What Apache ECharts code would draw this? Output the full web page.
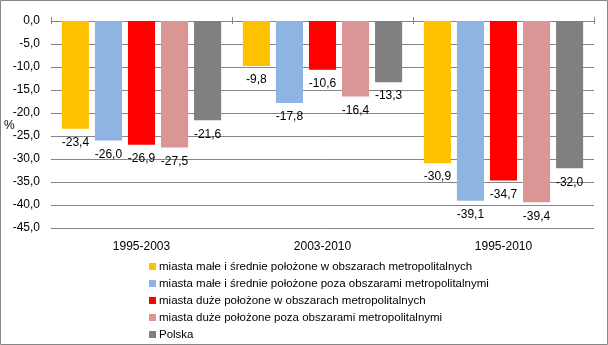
<!DOCTYPE html>
<html><head><meta charset="utf-8">
<script src="https://cdn.jsdelivr.net/npm/echarts@6/dist/echarts.min.js"></script>
<style>html,body{margin:0;padding:0;background:#fff}#c{width:608px;height:345px}</style>
</head><body><div id="c"></div>
<script>
const categories = ['1995-2003', '2003-2010', '1995-2010'];
const seriesNames = [
  'miasta małe i średnie położone w obszarach metropolitalnych',
  'miasta małe i średnie położone poza obszarami metropolitalnymi',
  'miasta duże położone w obszarach metropolitalnych',
  'miasta duże położone poza obszarami metropolitalnymi',
  'Polska'
];
const smallMetro = [-23.4, -9.8, -30.9];
const smallNonMetro = [-26.0, -17.8, -39.1];
const bigMetro = [-26.9, -10.6, -34.7];
const bigNonMetro = [-27.5, -16.4, -39.4];
const polska = [-21.6, -13.3, -32.0];
const colors = ['#FFC000', '#8DB4E2', '#FF0000', '#DA9694', '#808080'];
const values = [smallMetro, smallNonMetro, bigMetro, bigNonMetro, polska];

const fmt = v => Number(v).toFixed(1).replace('.', ',');
const font = 'Liberation Sans, Arial, sans-serif';

const chart = echarts.init(document.getElementById('c'), null, {renderer: 'canvas'});
chart.setOption({
  animation: false,
  grid: {left: 51, right: 14, top: 21, bottom: 117},
  xAxis: [
    {type: 'category', data: categories, position: 'bottom',
     axisLine: {show: false}, axisTick: {show: false},
     axisLabel: {margin: 13, fontSize: 12, color: '#000', fontFamily: font}},
    {type: 'category', data: categories, position: 'top',
     axisLine: {show: true, lineStyle: {color: '#868686'}},
     axisTick: {show: true, length: 4, lineStyle: {color: '#868686'}},
     axisLabel: {show: false}},
    {type: 'category', data: categories, position: 'top',
     axisLine: {show: false},
     axisTick: {show: true, inside: true, length: 3, lineStyle: {color: '#868686'}},
     axisLabel: {show: false}}
  ],
  yAxis: {type: 'value', min: -45, max: 0, interval: 5,
    axisLine: {show: false}, axisTick: {show: false},
    splitLine: {lineStyle: {color: '#868686', width: 1}},
    axisLabel: {formatter: fmt, margin: 11, fontSize: 12, color: '#000', fontFamily: font}},
  legend: {orient: 'vertical', left: 149, top: 260, width: 400, height: 86, padding: 0,
    itemWidth: 7, itemHeight: 7, itemGap: 4, icon: 'rect',
    textStyle: {fontSize: 11.5, color: '#000', fontFamily: font, lineHeight: 13, padding: [0, 0, 0, -2]},
    data: seriesNames},
  graphic: [
    {type: 'rect', shape: {x: 0.5, y: 0.5, width: 607, height: 344},
     style: {fill: 'none', stroke: '#868686', lineWidth: 1}, silent: true},
    {type: 'text', left: 4, top: 120, style: {text: '%', fontSize: 12, fill: '#000', font: '12px Liberation Sans, Arial, sans-serif'}}
  ],
  series: values.map((d, i) => ({
    name: seriesNames[i], type: 'bar', data: d, xAxisIndex: 0,
    barGap: '22%', barCategoryGap: '12%',
    itemStyle: {color: colors[i]},
    label: {show: true, position: 'bottom', distance: 8, formatter: p => fmt(p.value),
      fontSize: 12, color: '#000', fontFamily: font}
  }))
});
</script></body></html>
